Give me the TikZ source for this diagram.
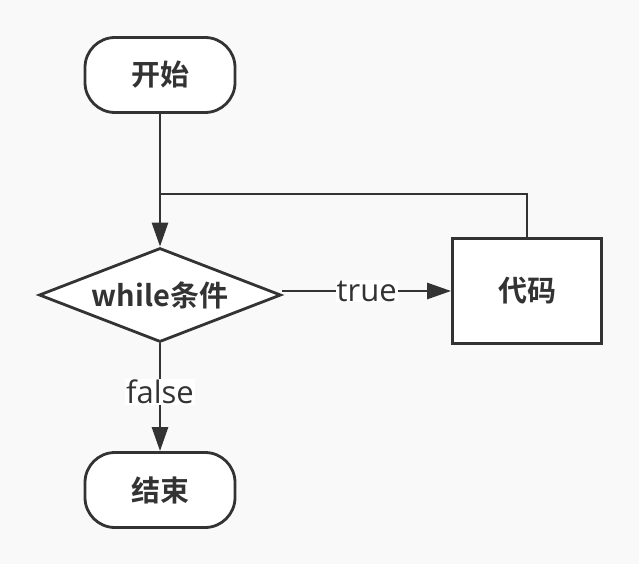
\documentclass[tikz,border=0pt]{standalone}
\usepackage{fontspec}
\newfontfamily\cjk{Noto Sans CJK SC}[BoldFont={Noto Sans CJK SC Bold}]
\newfontfamily\labelfont{Open Sans}
\usetikzlibrary{arrows.meta,shapes.geometric}

\definecolor{bg}{HTML}{F9F9F9}
\definecolor{ink}{HTML}{333333}

\begin{document}
\begin{tikzpicture}[x=1pt,y=1pt,
  line width=2.8pt, draw=ink, text=ink,
  every node/.style={font=\cjk\bfseries\fontsize{29}{33}\selectfont},
  terminal/.style={draw=ink, fill=white, rectangle, rounded corners=30pt, minimum width=150pt, minimum height=75pt, inner sep=0pt},
  decision/.style={draw=ink, fill=white, diamond, aspect=2.57, minimum width=242pt, minimum height=94pt, inner sep=0pt},
  process/.style={draw=ink, fill=white, rectangle, minimum width=149pt, minimum height=105pt, inner sep=0pt},
  flow/.style={ink, -{Triangle[length=24pt,width=16pt]}},
  edgelabel/.style={fill=white, inner sep=1pt, text=ink, font=\labelfont\fontsize{31}{35}\selectfont}]

\fill[bg] (0,0) rectangle (639,-564);

\node[terminal] (start) at (160,-75) {开始};
\node[decision] (cond) at (160,-295) {while条件};
\node[process] (code) at (527,-291) {代码};
\node[terminal] (stop) at (160,-490) {结束};
\coordinate (back) at (160,-194);

\draw[flow] (start) -- (cond);
\draw[flow] (cond.east |- code.west) -- node[edgelabel] {true} (code.west);
\draw[flow] (cond) -- node[edgelabel, pos=0.45] {false} (stop);
\draw[ink] (code.north) |- (back);

\end{tikzpicture}
\end{document}
